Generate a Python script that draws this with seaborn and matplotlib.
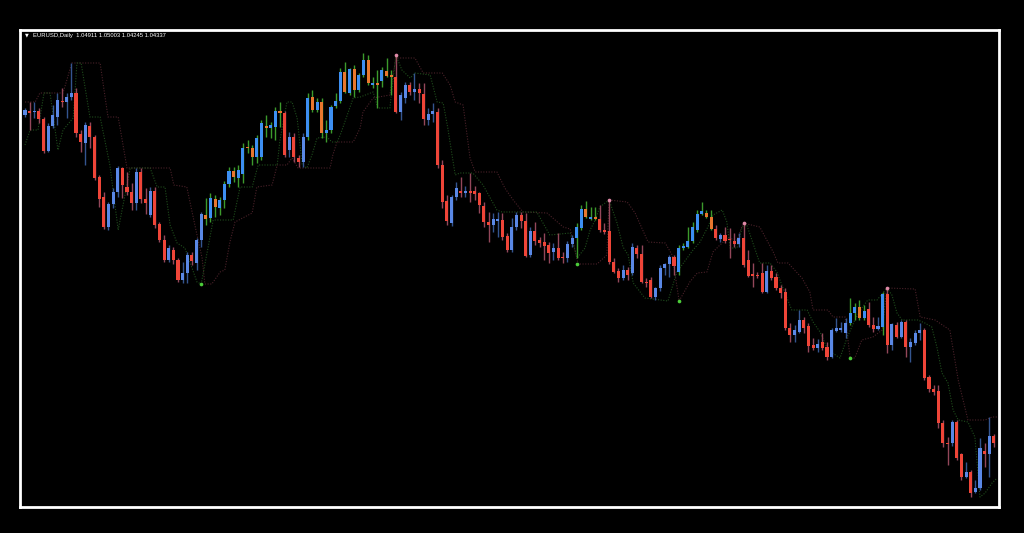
import numpy as np
import pandas as pd
import matplotlib
matplotlib.use('Agg')
import matplotlib.pyplot as plt
import seaborn as sns

# EURUSD daily candles (oldest first)
opens = [
    1.375, 1.379, 1.378, 1.379, 1.371, 1.339, 1.364, 1.373, 1.389, 1.388,
    1.393, 1.397, 1.356, 1.347, 1.364, 1.353, 1.313, 1.293, 1.263, 1.286,
    1.298, 1.322, 1.303, 1.298, 1.287, 1.318, 1.291, 1.275, 1.299, 1.266,
    1.250, 1.230, 1.240, 1.230, 1.210, 1.217, 1.235, 1.227, 1.250, 1.275,
    1.272, 1.291, 1.282, 1.290, 1.306, 1.319, 1.312, 1.316, 1.343, 1.342,
    1.333, 1.333, 1.364, 1.362, 1.363, 1.379, 1.377, 1.340, 1.353, 1.332,
    1.328, 1.353, 1.393, 1.380, 1.388, 1.357, 1.360, 1.384, 1.389, 1.418,
    1.397, 1.421, 1.400, 1.415, 1.430, 1.405, 1.407, 1.409, 1.419, 1.415,
    1.413, 1.378, 1.392, 1.405, 1.398, 1.401, 1.396, 1.370, 1.376, 1.378,
    1.325, 1.289, 1.267, 1.293, 1.299, 1.297, 1.299, 1.299, 1.297, 1.284,
    1.268, 1.265, 1.269, 1.270, 1.254, 1.240, 1.263, 1.275, 1.269, 1.235,
    1.259, 1.250, 1.248, 1.245, 1.238, 1.242, 1.233, 1.232, 1.246, 1.252,
    1.262, 1.281, 1.271, 1.273, 1.271, 1.260, 1.259, 1.228, 1.219, 1.212,
    1.220, 1.217, 1.242, 1.236, 1.208, 1.210, 1.193, 1.202, 1.222, 1.226,
    1.233, 1.218, 1.242, 1.243, 1.249, 1.260, 1.276, 1.277, 1.273, 1.261,
    1.251, 1.255, 1.251, 1.249, 1.246, 1.252, 1.230, 1.216, 1.215, 1.217,
    1.198, 1.219, 1.213, 1.202, 1.198, 1.162, 1.155, 1.158, 1.170, 1.164,
    1.145, 1.142, 1.148, 1.143, 1.133, 1.159, 1.160, 1.157, 1.167, 1.177,
    1.183, 1.172, 1.181, 1.165, 1.161, 1.163, 1.196, 1.145, 1.165, 1.153,
    1.168, 1.143, 1.147, 1.157, 1.160, 1.113, 1.101, 1.099, 1.067, 1.047,
    1.047, 1.068, 1.036, 1.013, 1.018, 0.998, 1.002, 1.039, 1.036, 1.054,
]
highs = [
    1.382, 1.388, 1.388, 1.382, 1.373, 1.367, 1.385, 1.397, 1.402, 1.397,
    1.427, 1.402, 1.360, 1.368, 1.368, 1.355, 1.315, 1.298, 1.288, 1.302,
    1.324, 1.323, 1.318, 1.307, 1.322, 1.322, 1.302, 1.303, 1.303, 1.268,
    1.255, 1.245, 1.243, 1.232, 1.228, 1.238, 1.238, 1.252, 1.278, 1.292,
    1.297, 1.295, 1.293, 1.309, 1.323, 1.323, 1.325, 1.347, 1.350, 1.345,
    1.355, 1.370, 1.375, 1.368, 1.383, 1.388, 1.379, 1.358, 1.357, 1.335,
    1.357, 1.397, 1.400, 1.392, 1.392, 1.370, 1.385, 1.397, 1.422, 1.428,
    1.422, 1.425, 1.417, 1.437, 1.435, 1.413, 1.420, 1.423, 1.432, 1.420,
    1.435, 1.398, 1.408, 1.408, 1.417, 1.407, 1.407, 1.382, 1.387, 1.382,
    1.330, 1.295, 1.295, 1.308, 1.313, 1.304, 1.317, 1.304, 1.298, 1.288,
    1.278, 1.277, 1.278, 1.277, 1.257, 1.272, 1.278, 1.278, 1.277, 1.263,
    1.268, 1.253, 1.257, 1.248, 1.247, 1.257, 1.238, 1.249, 1.255, 1.267,
    1.285, 1.289, 1.283, 1.283, 1.285, 1.267, 1.290, 1.232, 1.222, 1.225,
    1.223, 1.247, 1.245, 1.245, 1.212, 1.213, 1.203, 1.225, 1.227, 1.235,
    1.235, 1.245, 1.247, 1.263, 1.268, 1.280, 1.288, 1.280, 1.280, 1.265,
    1.257, 1.263, 1.262, 1.257, 1.257, 1.267, 1.240, 1.227, 1.218, 1.227,
    1.225, 1.225, 1.217, 1.205, 1.202, 1.167, 1.165, 1.180, 1.173, 1.167,
    1.152, 1.151, 1.157, 1.148, 1.162, 1.172, 1.168, 1.172, 1.192, 1.187,
    1.190, 1.185, 1.188, 1.173, 1.173, 1.198, 1.202, 1.167, 1.168, 1.170,
    1.170, 1.152, 1.160, 1.167, 1.162, 1.115, 1.105, 1.105, 1.070, 1.053,
    1.070, 1.070, 1.037, 1.028, 1.020, 1.010, 1.052, 1.047, 1.073, 1.056,
]
lows = [
    1.373, 1.360, 1.372, 1.367, 1.337, 1.338, 1.362, 1.365, 1.383, 1.372,
    1.390, 1.353, 1.338, 1.325, 1.342, 1.310, 1.283, 1.261, 1.260, 1.282,
    1.293, 1.292, 1.295, 1.280, 1.280, 1.287, 1.276, 1.273, 1.262, 1.248,
    1.228, 1.228, 1.226, 1.208, 1.207, 1.207, 1.225, 1.220, 1.243, 1.265,
    1.268, 1.273, 1.275, 1.282, 1.303, 1.308, 1.303, 1.307, 1.337, 1.325,
    1.327, 1.330, 1.353, 1.352, 1.350, 1.363, 1.333, 1.333, 1.328, 1.323,
    1.323, 1.350, 1.378, 1.378, 1.352, 1.348, 1.357, 1.382, 1.387, 1.397,
    1.395, 1.393, 1.398, 1.413, 1.405, 1.402, 1.382, 1.403, 1.413, 1.395,
    1.377, 1.370, 1.387, 1.395, 1.390, 1.387, 1.365, 1.365, 1.368, 1.322,
    1.282, 1.265, 1.264, 1.290, 1.293, 1.293, 1.288, 1.290, 1.277, 1.263,
    1.248, 1.258, 1.253, 1.250, 1.238, 1.238, 1.260, 1.262, 1.233, 1.233,
    1.245, 1.243, 1.230, 1.227, 1.230, 1.230, 1.227, 1.228, 1.243, 1.232,
    1.260, 1.272, 1.270, 1.270, 1.258, 1.256, 1.226, 1.217, 1.208, 1.210,
    1.210, 1.215, 1.232, 1.207, 1.203, 1.192, 1.190, 1.199, 1.215, 1.213,
    1.215, 1.215, 1.240, 1.242, 1.247, 1.258, 1.275, 1.272, 1.260, 1.250,
    1.248, 1.247, 1.232, 1.243, 1.243, 1.223, 1.213, 1.203, 1.212, 1.197,
    1.197, 1.210, 1.200, 1.192, 1.160, 1.148, 1.148, 1.157, 1.157, 1.138,
    1.140, 1.138, 1.140, 1.130, 1.132, 1.158, 1.158, 1.152, 1.165, 1.170,
    1.170, 1.170, 1.163, 1.158, 1.160, 1.155, 1.137, 1.140, 1.152, 1.152,
    1.133, 1.128, 1.145, 1.150, 1.110, 1.098, 1.095, 1.062, 1.043, 1.025,
    1.044, 1.030, 1.010, 1.012, 0.993, 0.997, 1.000, 1.023, 1.013, 1.043,
]
closes = [
    1.380, 1.377, 1.379, 1.371, 1.339, 1.364, 1.375, 1.390, 1.388, 1.393,
    1.397, 1.357, 1.348, 1.365, 1.353, 1.312, 1.291, 1.263, 1.286, 1.298,
    1.322, 1.305, 1.298, 1.287, 1.318, 1.291, 1.287, 1.299, 1.265, 1.250,
    1.230, 1.242, 1.230, 1.210, 1.217, 1.235, 1.229, 1.250, 1.276, 1.271,
    1.292, 1.283, 1.290, 1.306, 1.319, 1.313, 1.320, 1.342, 1.342, 1.333,
    1.352, 1.367, 1.362, 1.365, 1.379, 1.377, 1.335, 1.353, 1.333, 1.328,
    1.353, 1.392, 1.380, 1.388, 1.357, 1.360, 1.383, 1.389, 1.418, 1.398,
    1.421, 1.400, 1.415, 1.430, 1.407, 1.407, 1.405, 1.420, 1.414, 1.413,
    1.378, 1.395, 1.405, 1.398, 1.401, 1.397, 1.371, 1.376, 1.379, 1.325,
    1.288, 1.269, 1.293, 1.302, 1.297, 1.299, 1.297, 1.296, 1.285, 1.268,
    1.265, 1.271, 1.271, 1.253, 1.240, 1.263, 1.275, 1.269, 1.234, 1.259,
    1.249, 1.247, 1.244, 1.237, 1.242, 1.232, 1.232, 1.246, 1.252, 1.263,
    1.281, 1.273, 1.273, 1.271, 1.260, 1.258, 1.228, 1.218, 1.212, 1.220,
    1.215, 1.243, 1.236, 1.208, 1.207, 1.193, 1.202, 1.222, 1.226, 1.233,
    1.224, 1.242, 1.244, 1.249, 1.263, 1.276, 1.279, 1.273, 1.261, 1.252,
    1.255, 1.249, 1.250, 1.246, 1.252, 1.225, 1.214, 1.214, 1.214, 1.198,
    1.219, 1.212, 1.202, 1.197, 1.162, 1.155, 1.160, 1.170, 1.162, 1.144,
    1.142, 1.146, 1.142, 1.133, 1.160, 1.162, 1.162, 1.167, 1.177, 1.183,
    1.172, 1.179, 1.165, 1.161, 1.164, 1.196, 1.145, 1.166, 1.153, 1.168,
    1.143, 1.148, 1.157, 1.160, 1.112, 1.101, 1.098, 1.067, 1.047, 1.046,
    1.068, 1.032, 1.013, 1.018, 0.997, 1.002, 1.042, 1.036, 1.054, 1.047,
]

# bar ranges whose candles are highlighted (green wicks)
green_runs = [(39, 55), (61, 79), (119, 123), (141, 148), (178, 181), (185, 185)]

# fast trailing stop (dark green dotted), vertices as (bar, price)
fast_bar = [0.0, 1.1, 2.8, 4.1, 5.4, 7.1, 8.2, 10.4, 11.2, 12.1, 14.0, 16.2, 18.3, 20.1,
            22.7, 27.0, 28.5, 30.2, 31.3, 32.8, 34.5, 37.1, 38.0, 40.6, 44.9, 46.4, 49.0,
            50.3, 54.4, 55.0, 56.5, 57.6, 58.7, 59.8, 60.8, 61.9, 63.0, 65.1, 66.2, 67.3,
            68.0, 70.8, 72.3, 75.1, 76.1, 78.7, 80.0, 81.3, 83.1, 84.1, 87.4, 88.9, 90.2,
            91.2, 92.8, 93.8, 96.6, 98.8, 101.8, 102.9, 110.4, 113.2, 117.6, 119.1, 120.8,
            121.9, 123.0, 124.0, 126.0, 127.7, 129.0, 130.1, 131.2, 133.7, 138.7, 140.6,
            144.1, 145.6, 147.3, 148.4, 150.4, 151.4, 152.1, 153.6, 154.7, 155.7, 157.9,
            158.5, 160.7, 162.2, 163.5, 165.4, 168.7, 170.0, 171.5, 173.2, 175.8, 177.3,
            179.0, 180.5, 181.8, 183.8, 185.9, 187.0, 188.1, 189.2, 192.6, 194.1, 195.6,
            196.7, 197.8, 199.1, 200.2, 201.3, 203.4, 204.9, 206.0, 207.1, 208.6, 209.7]
fast_price = [1.345, 1.360, 1.360, 1.397, 1.397, 1.340, 1.360, 1.372, 1.427, 1.427, 1.373,
              1.373, 1.325, 1.260, 1.322, 1.322, 1.303, 1.303, 1.265, 1.247, 1.242, 1.208,
              1.206, 1.270, 1.270, 1.303, 1.303, 1.325, 1.325, 1.350, 1.388, 1.388, 1.372,
              1.325, 1.322, 1.335, 1.352, 1.353, 1.348, 1.348, 1.355, 1.392, 1.393, 1.398,
              1.382, 1.382, 1.435, 1.420, 1.412, 1.417, 1.415, 1.388, 1.387, 1.362, 1.315,
              1.317, 1.317, 1.305, 1.280, 1.278, 1.278, 1.255, 1.257, 1.232, 1.242, 1.260,
              1.270, 1.283, 1.290, 1.267, 1.243, 1.235, 1.207, 1.192, 1.189, 1.218, 1.240,
              1.248, 1.263, 1.275, 1.280, 1.268, 1.242, 1.242, 1.263, 1.265, 1.235, 1.227,
              1.227, 1.218, 1.202, 1.180, 1.180, 1.168, 1.158, 1.140, 1.132, 1.152, 1.170,
              1.182, 1.190, 1.190, 1.202, 1.195, 1.177, 1.170, 1.170, 1.167, 1.163, 1.143,
              1.117, 1.107, 1.080, 1.070, 1.068, 1.053, 0.993, 0.997, 1.007, 1.012]

# slow trailing stop (maroon dotted), vertices as (bar, price)
slow_bar = [0.0, 2.2, 3.2, 8.2, 10.1, 16.2, 17.9, 20.1, 22.0, 31.3, 32.1, 34.9, 37.1, 38.2,
            38.8, 40.3, 42.1, 43.1, 44.2, 45.3, 49.0, 50.0, 53.3, 54.4, 56.5, 57.6, 58.9,
            65.8, 66.4, 67.3, 70.8, 72.3, 72.9, 75.1, 78.7, 80.0, 84.1, 85.9, 90.0, 91.7,
            92.8, 94.5, 96.0, 97.1, 101.8, 103.5, 105.3, 107.4, 112.6, 116.1, 117.6, 119.3,
            123.4, 125.5, 126.0, 129.9, 131.6, 134.4, 138.1, 139.6, 141.1, 143.4, 145.0,
            147.1, 148.4, 149.9, 151.6, 153.6, 154.9, 158.5, 161.4, 162.4, 164.6, 167.6,
            169.3, 170.0, 173.2, 174.3, 176.9, 178.0, 179.0, 180.5, 182.9, 184.9, 185.9,
            192.0, 193.1, 196.3, 199.5, 201.3, 203.4, 207.1, 208.6, 209.7]
slow_price = [1.388, 1.388, 1.397, 1.397, 1.427, 1.427, 1.373, 1.373, 1.322, 1.322, 1.305,
              1.303, 1.255, 1.232, 1.206, 1.206, 1.218, 1.220, 1.248, 1.268, 1.277, 1.303,
              1.305, 1.325, 1.325, 1.332, 1.322, 1.322, 1.335, 1.348, 1.348, 1.362, 1.378,
              1.392, 1.395, 1.432, 1.432, 1.417, 1.417, 1.405, 1.388, 1.385, 1.332, 1.318,
              1.318, 1.302, 1.290, 1.278, 1.277, 1.263, 1.261, 1.226, 1.226, 1.235, 1.290,
              1.288, 1.277, 1.248, 1.247, 1.235, 1.189, 1.208, 1.217, 1.218, 1.238, 1.245,
              1.252, 1.250, 1.267, 1.263, 1.238, 1.227, 1.227, 1.212, 1.198, 1.180, 1.180,
              1.173, 1.173, 1.132, 1.132, 1.150, 1.153, 1.160, 1.202, 1.201, 1.173, 1.170,
              1.160, 1.110, 1.070, 1.070, 1.073, 1.073]

# swing markers
top_bars = [80, 126, 155, 186]
top_prices = [1.435, 1.290, 1.267, 1.202]
bottom_bars = [38, 119, 141, 178]
bottom_prices = [1.206, 1.226, 1.189, 1.132]

title = 'EURUSD,Daily  1.04911 1.05003 1.04245 1.04337'

df = pd.DataFrame({'open': opens, 'high': highs, 'low': lows, 'close': closes})
df['bar'] = np.arange(len(df))
df['hl'] = False
for a, b in green_runs:
    df.loc[a:b, 'hl'] = True
df['bull'] = df['close'] >= df['open']

def body_color(r):
    if r.bull:
        return '#3d8ff2' if r.hl else '#5a88e6'
    return '#e8772e' if r.hl else '#ef4538'

def wick_color(r):
    if r.hl:
        return '#3c9a2c'
    return '#34558f' if r.bull else '#93475a'

df['bcol'] = df.apply(body_color, axis=1)
df['wcol'] = df.apply(wick_color, axis=1)
df['bottom'] = df[['open', 'close']].min(axis=1)
df['height'] = (df['close'] - df['open']).abs().clip(lower=0.0013)

sns.set_style('dark', {'axes.facecolor': 'black', 'figure.facecolor': 'black'})
plt.rcParams['font.family'] = ['Liberation Sans', 'DejaVu Sans']

fig = plt.figure(figsize=(10.24, 5.33), dpi=100)
ax = fig.add_axes([20 / 1024, 26 / 533, 979 / 1024, 477 / 533])
ax.set_facecolor('black')

# trailing stop lines, faint and dotted
sns.lineplot(x=slow_bar, y=slow_price, ax=ax, color='#4a2129', linewidth=0.8,
             linestyle=(0, (1, 1.4)), sort=False, estimator=None, zorder=1)
sns.lineplot(x=fast_bar, y=fast_price, ax=ax, color='#1f4d1c', linewidth=0.8,
             linestyle=(0, (1, 1.4)), sort=False, estimator=None, zorder=1)

ax.vlines(df['bar'], df['low'], df['high'], colors=df['wcol'], linewidth=1.0, zorder=2)
ax.bar(df['bar'], df['height'], bottom=df['bottom'], width=0.66,
       color=df['bcol'], linewidth=0, zorder=3)

ax.scatter(top_bars, top_prices, s=7, color='#e08aa8', zorder=4, linewidths=0)
ax.scatter(bottom_bars, bottom_prices, s=7, color='#4ccd3a', zorder=4, linewidths=0)

ax.set_xlim(-1.08, 210.1)
ax.set_ylim(0.983, 1.460)
ax.set_xticks([])
ax.set_yticks([])
ax.set_xlabel('')
ax.set_ylabel('')
for s in ax.spines.values():
    s.set_color('white')
    s.set_linewidth(2)
    s.set_visible(True)

fig.text(25 / 1024, 1 - 35 / 533, '\u25bc', color='white', fontsize=3.5, va='center',
         family=['DejaVu Sans'])
fig.text(33 / 1024, 1 - 35 / 533, title, color='white', fontsize=4.2, va='center')

fig.savefig('out.png', dpi=100, facecolor='black')
